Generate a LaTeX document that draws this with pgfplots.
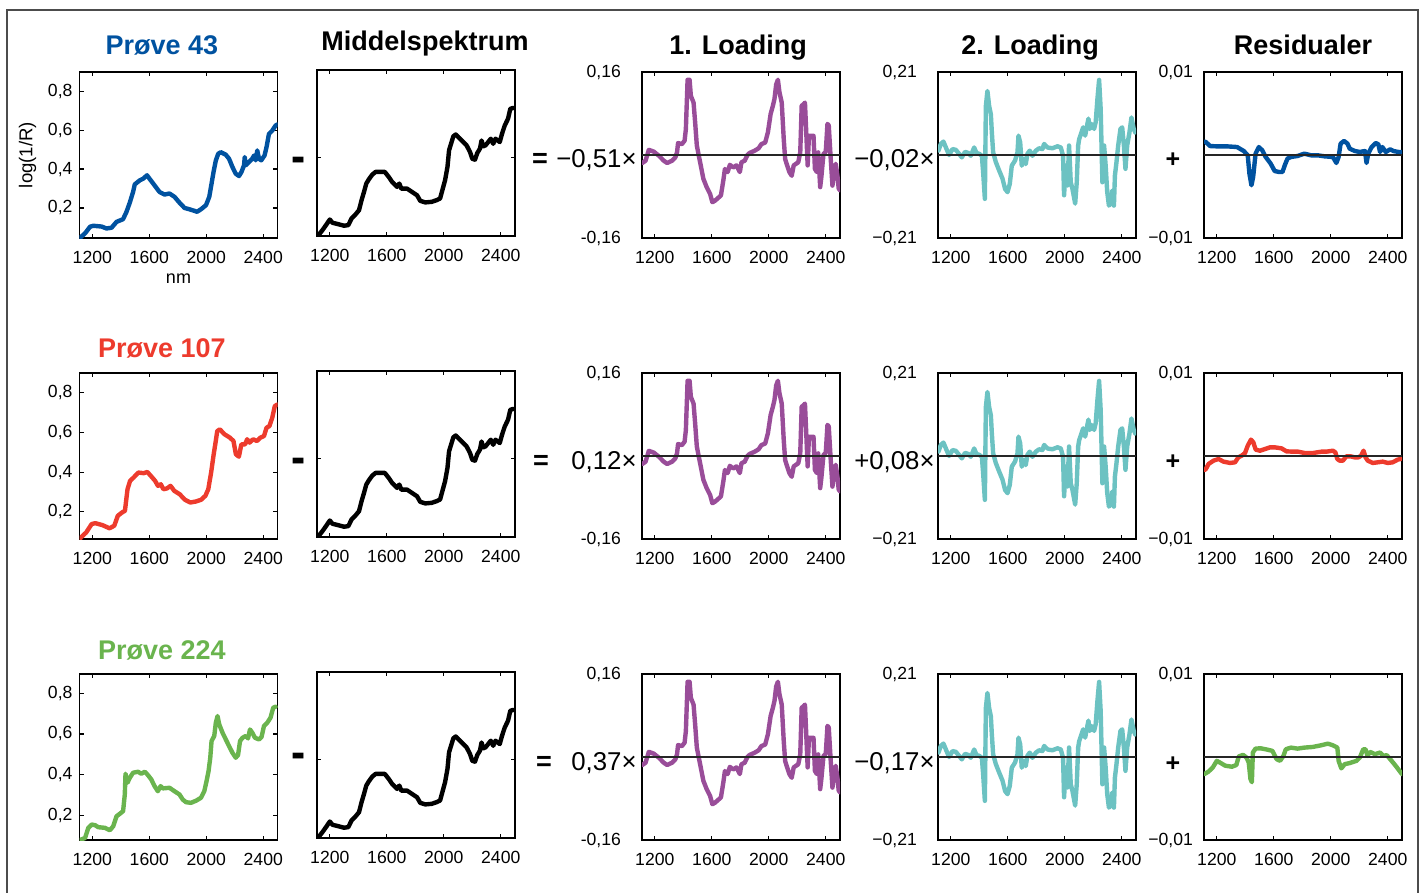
\documentclass[border=0pt]{standalone}
\usepackage{fontspec}
\setmainfont{Liberation Sans}
\usepackage{graphicx}
\usepackage{pgfplots}
\usepackage{pgfplotstable}
\pgfplotsset{compat=1.18}

\definecolor{cblue}{RGB}{0,82,160}
\definecolor{cred}{RGB}{237,59,45}
\definecolor{cgreen}{RGB}{106,180,78}
\definecolor{cpurple}{RGB}{153,77,153}
\definecolor{cteal}{RGB}{108,194,194}

% ---------------- data ----------------
\pgfplotstableread{
x y
1110 0.040
1121 0.051
1149 0.069
1184 0.103
1207 0.108
1265 0.104
1300 0.094
1335 0.098
1370 0.128
1416 0.142
1440 0.180
1463 0.227
1486 0.282
1498 0.321
1533 0.342
1556 0.350
1584 0.368
1602 0.350
1637 0.316
1672 0.282
1707 0.269
1742 0.274
1777 0.257
1812 0.227
1847 0.200
1881 0.193
1916 0.185
1935 0.180
1963 0.193
1998 0.214
2021 0.257
2037 0.325
2051 0.385
2067 0.444
2084 0.479
2102 0.487
2137 0.474
2160 0.453
2184 0.410
2207 0.376
2230 0.364
2247 0.385
2265 0.419
2270 0.462
2277 0.419
2300 0.436
2323 0.453
2335 0.470
2347 0.445
2358 0.496
2370 0.453
2386 0.445
2409 0.470
2423 0.513
2440 0.581
2463 0.598
2486 0.624
2500 0.630
}\tabA

\pgfplotstableread{
x y
1110 0.060
1120 0.071
1157 0.096
1195 0.138
1220 0.143
1271 0.133
1321 0.117
1354 0.130
1379 0.180
1409 0.197
1429 0.205
1447 0.314
1465 0.356
1490 0.373
1523 0.398
1561 0.395
1586 0.401
1611 0.381
1641 0.356
1661 0.331
1681 0.339
1699 0.314
1724 0.318
1749 0.331
1775 0.306
1813 0.289
1850 0.261
1888 0.247
1926 0.252
1964 0.261
1994 0.281
2014 0.314
2034 0.398
2052 0.490
2065 0.549
2077 0.607
2095 0.616
2128 0.591
2166 0.574
2191 0.557
2208 0.490
2229 0.478
2246 0.540
2272 0.540
2287 0.566
2304 0.549
2329 0.566
2355 0.557
2380 0.574
2405 0.582
2423 0.624
2443 0.632
2463 0.674
2481 0.733
2498 0.741
}\tabB

\pgfplotstableread{
x y
1110 0.072
1121 0.080
1149 0.088
1172 0.138
1195 0.154
1219 0.151
1242 0.141
1288 0.138
1323 0.126
1347 0.146
1370 0.195
1393 0.207
1416 0.220
1428 0.302
1433 0.404
1447 0.360
1463 0.384
1486 0.409
1521 0.414
1544 0.404
1568 0.414
1591 0.397
1614 0.376
1637 0.343
1660 0.318
1679 0.343
1695 0.332
1742 0.335
1777 0.318
1812 0.302
1835 0.277
1858 0.264
1893 0.261
1930 0.272
1963 0.286
1986 0.318
2002 0.368
2016 0.417
2028 0.483
2037 0.565
2056 0.590
2067 0.655
2079 0.688
2091 0.647
2114 0.606
2137 0.573
2160 0.540
2184 0.507
2207 0.483
2223 0.496
2237 0.565
2254 0.581
2277 0.590
2293 0.578
2307 0.622
2323 0.606
2342 0.581
2370 0.573
2388 0.585
2405 0.639
2428 0.655
2451 0.680
2470 0.729
2486 0.734
}\tabC

\pgfplotstableread{
x y
1110 0.040
1121 0.050
1149 0.076
1177 0.105
1200 0.130
1219 0.113
1253 0.107
1300 0.098
1330 0.101
1353 0.136
1377 0.153
1405 0.178
1423 0.230
1440 0.272
1456 0.315
1474 0.337
1498 0.361
1521 0.375
1556 0.375
1586 0.375
1614 0.349
1637 0.324
1672 0.298
1688 0.315
1702 0.289
1742 0.289
1777 0.272
1812 0.255
1835 0.226
1870 0.218
1916 0.221
1951 0.230
1974 0.238
1993 0.289
2009 0.332
2026 0.401
2037 0.486
2051 0.520
2067 0.558
2084 0.568
2102 0.554
2137 0.529
2160 0.512
2184 0.478
2200 0.443
2219 0.438
2235 0.472
2254 0.495
2265 0.537
2277 0.507
2293 0.512
2312 0.529
2330 0.546
2347 0.520
2363 0.546
2393 0.529
2409 0.572
2428 0.614
2451 0.649
2467 0.700
2488 0.705
}\tabM

\pgfplotstableread{
x y
1112 -0.0154
1135 -0.011
1158 0.010
1193 0.0064
1228 -0.0013
1263 -0.011
1286 -0.0154
1321 -0.011
1344 -0.0045
1356 0.0051
1363 0.023
1390 0.021
1409 0.0275
1418 0.050
1430 0.145
1444 0.145
1453 0.114
1472 0.101
1483 0.063
1495 0.018
1518 -0.014
1541 -0.046
1564 -0.062
1588 -0.075
1604 -0.091
1623 -0.088
1664 -0.078
1681 -0.049
1692 -0.027
1711 -0.033
1727 -0.019
1750 -0.024
1773 -0.020
1797 -0.033
1808 -0.014
1831 -0.011
1850 0.000
1866 0.004
1901 0.0083
1929 0.013
1948 0.021
1975 0.024
1994 0.044
2013 0.079
2029 0.095
2040 0.108
2052 0.136
2064 0.145
2075 0.121
2091 0.101
2105 0.031
2115 -0.008
2129 -0.020
2145 -0.033
2161 -0.040
2175 -0.020
2191 -0.017
2207 -0.014
2221 0.005
2231 0.095
2245 0.098
2254 0.101
2263 0.044
2273 -0.020
2282 0.037
2296 0.037
2314 0.037
2324 -0.027
2338 -0.033
2347 0.005
2361 -0.062
2370 -0.040
2384 0.002
2400 0.006
2412 0.060
2421 0.057
2435 -0.008
2447 -0.059
2458 -0.033
2470 -0.017
2482 -0.040
2491 -0.065
2500 -0.068
}\tabL

\pgfplotstableread{
x y
1113 0.011
1130 0.028
1148 0.034
1170 0.015
1188 0.000
1212 0.015
1235 0.013
1258 0.003
1277 -0.006
1300 0.008
1324 0.005
1340 -0.002
1364 0.019
1380 0.005
1399 0.003
1418 -0.002
1427 -0.044
1439 -0.111
1446 0.124
1457 0.162
1469 0.124
1481 0.103
1488 0.057
1497 0.007
1516 -0.018
1539 -0.039
1563 -0.060
1581 -0.086
1598 -0.094
1614 -0.073
1628 -0.027
1651 -0.014
1668 0.007
1675 0.049
1687 0.032
1698 -0.027
1715 -0.010
1726 -0.023
1738 0.003
1754 0.011
1773 -0.002
1797 0.011
1820 0.017
1843 0.015
1855 0.028
1878 0.019
1913 0.017
1949 0.022
1972 0.019
1988 -0.002
1995 -0.102
2007 -0.027
2019 -0.077
2030 0.024
2042 -0.069
2054 -0.086
2073 -0.123
2084 -0.069
2094 0.024
2101 0.040
2117 0.057
2129 0.070
2143 0.049
2152 0.066
2166 0.092
2176 0.066
2190 0.078
2206 0.066
2217 0.083
2229 0.141
2241 0.190
2252 0.116
2264 -0.069
2276 0.024
2287 -0.027
2298 -0.094
2310 -0.128
2322 -0.123
2333 -0.090
2345 -0.128
2352 -0.052
2363 -0.018
2375 0.024
2391 0.066
2403 0.070
2415 0.024
2426 -0.035
2438 0.024
2454 0.057
2468 0.095
2484 0.066
2495 0.057
}\tabK

\pgfplotstableread{
x y
1112 0.00160
1122 0.00157
1153 0.00108
1200 0.00104
1271 0.00104
1342 0.00096
1389 0.00048
1417 -0.00004
1429 -0.00225
1443 -0.00365
1455 -0.00265
1472 0.00016
1495 0.00096
1519 0.00056
1543 -0.00024
1578 -0.00104
1606 -0.00193
1637 -0.00205
1661 -0.00205
1677 -0.00124
1696 -0.00044
1720 -0.00024
1767 -0.00012
1814 0.00016
1862 -0.00004
1909 -0.00004
1956 -0.00016
2015 -0.00024
2039 -0.00096
2055 -0.00024
2069 0.00137
2093 0.00169
2117 0.00137
2133 0.00076
2169 0.00048
2204 0.00036
2240 0.00048
2251 -0.00096
2263 0.00016
2287 0.00096
2315 0.00145
2334 0.00129
2346 0.00036
2362 0.00096
2386 0.00036
2417 0.00068
2440 0.00048
2476 0.00036
2500 0.00036
}\tabRa

\pgfplotstableread{
x y
1112 -0.00170
1123 -0.00157
1142 -0.00096
1177 -0.00056
1212 -0.00036
1247 -0.00068
1293 -0.00084
1328 -0.00076
1351 -0.00016
1375 0.00004
1398 0.00036
1417 0.00124
1440 0.00197
1456 0.00165
1473 0.00076
1503 0.00064
1538 0.00084
1573 0.00104
1608 0.00104
1654 0.00092
1689 0.00056
1736 0.00052
1771 0.00052
1817 0.00036
1876 0.00036
1934 0.00052
1969 0.00052
2015 0.00064
2032 0.00044
2046 -0.00036
2062 -0.00056
2085 -0.00056
2109 -0.00004
2139 -0.00004
2167 -0.00016
2195 -0.00016
2213 0.00004
2230 0.00064
2244 -0.00016
2260 -0.00056
2295 -0.00084
2330 -0.00076
2365 -0.00068
2400 -0.00084
2435 -0.00076
2470 -0.00044
2490 -0.00036
}\tabRb

\pgfplotstableread{
x y
1113 -0.00205
1141 -0.00177
1172 -0.00125
1200 -0.00046
1228 -0.00073
1259 -0.00105
1306 -0.00117
1337 -0.00097
1354 0.00006
1384 0.00026
1408 -0.00006
1424 -0.00066
1436 -0.00264
1446 -0.00304
1453 0.00054
1472 0.00101
1507 0.00105
1543 0.00093
1590 0.00074
1620 -0.00026
1644 -0.00046
1668 0.00014
1684 0.00093
1720 0.00113
1767 0.00101
1814 0.00113
1873 0.00121
1932 0.00141
1980 0.00161
2015 0.00141
2046 0.00113
2055 -0.00046
2074 -0.00137
2098 -0.00086
2133 -0.00073
2181 -0.00046
2204 -0.00006
2228 0.00093
2244 0.00093
2258 0.00014
2275 0.00062
2310 0.00034
2346 0.00054
2369 0.00014
2393 0.00022
2417 -0.00026
2440 -0.00073
2464 -0.00125
2499 -0.00205
}\tabRc

% ---------------- styles ----------------
\pgfplotsset{
  panel/.style={anchor=north west, width=99pt, height=83pt, scale only axis,
    xmin=1110, xmax=2500,
    xtick={1200,1600,2000,2400}, xticklabels={1200,1600,2000,2400},
    scaled ticks=false,
    tick align=inside, major tick length=2.2pt,
    axis line style={line width=0.9pt},
    every tick/.append style={line width=0.6pt, black},
    tick label style={font=\fontsize{8.8}{10}\selectfont},
    xticklabel style={yshift=-3.2pt}},
  spec/.style={panel, ytick={0.2,0.4,0.6,0.8},
    yticklabels={{0,2},{0,4},{0,6},{0,8}}},
  mid/.style={panel, ymin=0.045, ymax=0.90, ytick={0.45}, yticklabels={}},
  loadA/.style={panel, ymin=-0.16, ymax=0.16, ytick={-0.16,0.16},
    yticklabels={{-0,16},{0,16}}, yticklabel style={xshift=-7pt}},
  loadB/.style={panel, ymin=-0.21, ymax=0.21, ytick={-0.21,0.21},
    yticklabels={{−0,21},{0,21}}, yticklabel style={xshift=-7pt}},
  resid/.style={panel, ymin=-0.01, ymax=0.01, ytick={-0.01,0.01},
    yticklabels={{−0,01},{0,01}}, yticklabel style={xshift=-2pt}},
  curve/.style={line width=2.2pt, line join=round, line cap=round, mark=none},
  zero/.style={black!85, line width=0.55pt, mark=none},
}

\newcommand{\titlefont}{\fontsize{13.5}{16}\selectfont\bfseries}
\newcommand{\coeffont}{\fontsize{12.9}{15}\selectfont}
\newcommand{\bigminus}{\scalebox{0.68}[1.8]{\fontsize{16}{18}\selectfont\bfseries –}}

\begin{document}
\begin{tikzpicture}
\useasboundingbox (0,0) rectangle (710.5pt,-446.5pt);
\draw[black!70, line width=0.6pt] (3.5pt,-5pt) rectangle (709pt,-452pt);

% ---------- titles ----------
\node[text=cblue, font=\titlefont, anchor=base] at (81pt,-27.5pt) {Prøve 43};
\node[font=\titlefont, anchor=base] at (212.5pt,-25.5pt) {Middelspektrum};
\node[font=\titlefont, anchor=base] at (369pt,-27.5pt) {1. Loading};
\node[font=\titlefont, anchor=base] at (515pt,-27.5pt) {2. Loading};
\node[font=\titlefont, anchor=base] at (651.5pt,-27.5pt) {Residualer};
\node[text=cred, font=\titlefont, anchor=base] at (81pt,-179pt) {Prøve 107};
\node[text=cgreen, font=\titlefont, anchor=base] at (81pt,-330pt) {Prøve 224};

% ---------- row 1 ----------
\begin{axis}[spec, at={(39.75pt,-36pt)}, ymin=0.045, ymax=0.90,
  ylabel={log(1/R)}, xlabel={nm},
  ylabel style={font=\fontsize{9.3}{10}\selectfont, yshift=-1pt},
  xlabel style={font=\fontsize{9}{10}\selectfont, yshift=2pt}]
\addplot[curve, cblue] table {\tabA};
\end{axis}
\begin{axis}[mid, at={(158.5pt,-35pt)}]
\addplot[curve, black] table {\tabM};
\end{axis}
\begin{axis}[loadA, at={(321pt,-36pt)}]
\addplot[curve, cpurple] table {\tabL};
\addplot[zero] coordinates {(1110,0) (2500,0)};
\end{axis}
\begin{axis}[loadB, at={(469pt,-36pt)}]
\addplot[curve, cteal] table {\tabK};
\addplot[zero] coordinates {(1110,0) (2500,0)};
\end{axis}
\begin{axis}[resid, at={(602pt,-36pt)}]
\addplot[curve, cblue] table {\tabRa};
\addplot[zero] coordinates {(1110,0) (2500,0)};
\end{axis}

% ---------- row 2 ----------
\begin{axis}[spec, at={(39.75pt,-186.5pt)}, ymin=0.063, ymax=0.90]
\addplot[curve, cred] table {\tabB};
\end{axis}
\begin{axis}[mid, at={(158.5pt,-185.5pt)}]
\addplot[curve, black] table {\tabM};
\end{axis}
\begin{axis}[loadA, at={(321pt,-186.5pt)}]
\addplot[curve, cpurple] table {\tabL};
\addplot[zero] coordinates {(1110,0) (2500,0)};
\end{axis}
\begin{axis}[loadB, at={(469pt,-186.5pt)}]
\addplot[curve, cteal] table {\tabK};
\addplot[zero] coordinates {(1110,0) (2500,0)};
\end{axis}
\begin{axis}[resid, at={(602pt,-186.5pt)}]
\addplot[curve, cred] table {\tabRb};
\addplot[zero] coordinates {(1110,0) (2500,0)};
\end{axis}

% ---------- row 3 ----------
\begin{axis}[spec, at={(39.75pt,-337pt)}, ymin=0.078, ymax=0.895]
\addplot[curve, cgreen] table {\tabC};
\end{axis}
\begin{axis}[mid, at={(158.5pt,-336pt)}]
\addplot[curve, black] table {\tabM};
\end{axis}
\begin{axis}[loadA, at={(321pt,-337pt)}]
\addplot[curve, cpurple] table {\tabL};
\addplot[zero] coordinates {(1110,0) (2500,0)};
\end{axis}
\begin{axis}[loadB, at={(469pt,-337pt)}]
\addplot[curve, cteal] table {\tabK};
\addplot[zero] coordinates {(1110,0) (2500,0)};
\end{axis}
\begin{axis}[resid, at={(602pt,-337pt)}]
\addplot[curve, cgreen] table {\tabRc};
\addplot[zero] coordinates {(1110,0) (2500,0)};
\end{axis}

% ---------- operators and coefficients ----------
\node[inner sep=0pt] at (149.5pt,-83pt) {\bigminus};
\node[inner sep=0pt] at (149.5pt,-233.5pt) {\bigminus};
\node[inner sep=0pt] at (149.5pt,-381pt) {\bigminus};

\node[font=\fontsize{13.5}{16}\selectfont\bfseries] at (270pt,-80pt) {=};
\node[font=\fontsize{13.5}{16}\selectfont\bfseries] at (270.5pt,-231pt) {=};
\node[font=\fontsize{13.5}{16}\selectfont\bfseries] at (272pt,-381.5pt) {=};

\node[font=\coeffont, anchor=east, inner sep=0pt] at (318.5pt,-80pt) {−0,51×};
\node[font=\coeffont, anchor=east, inner sep=0pt] at (318.5pt,-231pt) {0,12×};
\node[font=\coeffont, anchor=east, inner sep=0pt] at (318.5pt,-381.5pt) {0,37×};

\node[font=\coeffont, anchor=east, inner sep=0pt] at (467.5pt,-80pt) {−0,02×};
\node[font=\coeffont, anchor=east, inner sep=0pt] at (467.5pt,-231pt) {+0,08×};
\node[font=\coeffont, anchor=east, inner sep=0pt] at (467.5pt,-381.5pt) {−0,17×};

\node[font=\fontsize{12.5}{14}\selectfont\bfseries] at (586.5pt,-80pt) {+};
\node[font=\fontsize{12.5}{14}\selectfont\bfseries] at (586.5pt,-231pt) {+};
\node[font=\fontsize{12.5}{14}\selectfont\bfseries] at (586.5pt,-382pt) {+};
\end{tikzpicture}
\end{document}
